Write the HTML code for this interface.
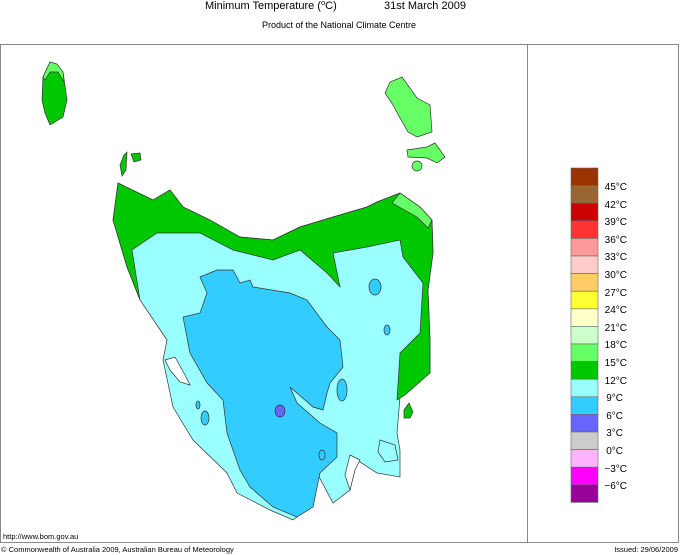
<!DOCTYPE html>
<html><head><meta charset="utf-8"><style>
body{margin:0;background:#fff;}
svg{display:block;font-family:"Liberation Sans",sans-serif;}
</style></head><body>
<svg width="680" height="555" viewBox="0 0 680 555" xmlns="http://www.w3.org/2000/svg">
<rect width="680" height="555" fill="#fff"/>
<text x="205" y="9" font-size="11" fill="#000">Minimum Temperature (<tspan font-size="7.5" dy="-4">o</tspan><tspan dy="4">C)</tspan></text>
<text x="384" y="9" font-size="11" fill="#000">31st March 2009</text>
<text x="339" y="28" font-size="9" text-anchor="middle" fill="#000">Product of the National Climate Centre</text>
<rect x="0.5" y="44.5" width="678" height="498" fill="none" stroke="#888"/>
<line x1="527.5" y1="44" x2="527.5" y2="543" stroke="#888"/>
<g stroke="#333" stroke-width="0.7">
<path d="M50,62 L63,72 L67,100 L63,117 L50,125 L45,113 L42,100 L43,77 Z" fill="#00c800"/>
<path d="M50,62 L57,64 L63,72 L64,82 L58,72 L50,72 L45,80 L43,77 Z" fill="#66ff66"/>
<path d="M124,155 L127,152 L126,170 L122,176 L120,165 Z" fill="#00c800"/>
<path d="M131,154 L140,153 L141,160 L134,162 Z" fill="#00c800"/>
<path d="M402,77 L417,98 L430,105 L432,132 L417,137 L408,132 L400,118 L393,105 L385,93 L390,82 Z" fill="#66ff66"/>
<path d="M407,150 L427,147 L435,143 L445,157 L437,163 L427,158 L408,157 Z" fill="#66ff66"/>
<circle cx="417" cy="166" r="5" fill="#66ff66"/>
<path d="M118,183 L153,200 L170,190 L183,207 L210,220 L240,237 L273,240 L300,227 L333,217 L367,207 L377,202 L400,193 L420,207 L432,220 L433,253 L428,290 L430,340 L430,373 L400,397 L397,433 L400,450 L400,477 L377,473 L357,460 L350,490 L333,503 L317,473 L310,507 L293,520 L270,510 L237,493 L227,473 L193,440 L173,407 L163,360 L167,340 L140,300 L127,267 L113,220 Z" fill="#99ffff"/>
<path d="M118,183 L153,200 L170,190 L183,207 L210,220 L240,237 L273,240 L300,227 L333,217 L367,207 L377,202 L400,193 L420,207 L432,220 L433,253 L428,290 L430,340 L430,373 L405,395 L397,400 L400,353 L420,333 L423,283 L403,257 L400,240 L367,247 L333,253 L340,287 L327,273 L300,250 L273,260 L233,250 L200,233 L157,233 L132,250 L140,300 L127,267 L113,220 Z" fill="#00c800"/>
<path d="M392,203 L400,193 L420,207 L432,220 L428,228 L417,217 Z" fill="#66ff66"/>
<path d="M200,277 L217,270 L233,270 L240,283 L250,280 L253,287 L290,293 L307,300 L327,327 L340,340 L343,367 L330,383 L327,393 L323,410 L313,407 L290,387 L297,403 L320,423 L337,433 L337,457 L320,473 L313,507 L297,517 L273,507 L250,487 L240,470 L227,433 L223,400 L207,383 L190,353 L183,317 L200,313 L207,293 Z" fill="#33ccff"/>
<ellipse cx="375" cy="287" rx="6" ry="8" fill="#33ccff"/>
<ellipse cx="387" cy="330" rx="3" ry="5" fill="#33ccff"/>
<ellipse cx="342" cy="390" rx="5" ry="11" fill="#33ccff"/>
<ellipse cx="205" cy="418" rx="4" ry="7" fill="#33ccff"/>
<ellipse cx="198" cy="405" rx="2" ry="4" fill="#33ccff"/>
<ellipse cx="322" cy="455" rx="3" ry="5" fill="#33ccff"/>
<ellipse cx="280" cy="411" rx="5" ry="6" fill="#6666ff"/>
<path d="M404,410 L409,403 L413,412 L410,418 L404,418 Z" fill="#00c800"/>
<path d="M165,360 L175,357 L185,375 L190,385 L180,382 L170,370 Z" fill="#fff"/>
<path d="M350,455 L360,460 L355,470 L350,490 L345,475 Z" fill="#fff"/>
<path d="M380,440 L395,445 L398,460 L385,462 L378,452 Z" fill="#99ffff"/>
</g>
<g stroke="#666" stroke-width="0.6">
<rect x="571" y="168" width="27" height="17.6" fill="#993300"/>
<rect x="571" y="185.6" width="27" height="17.6" fill="#996633"/>
<rect x="571" y="203.2" width="27" height="17.6" fill="#cc0000"/>
<rect x="571" y="220.8" width="27" height="17.6" fill="#ff3333"/>
<rect x="571" y="238.4" width="27" height="17.6" fill="#ff9999"/>
<rect x="571" y="256" width="27" height="17.6" fill="#ffcccc"/>
<rect x="571" y="273.6" width="27" height="17.6" fill="#ffcc66"/>
<rect x="571" y="291.2" width="27" height="17.6" fill="#ffff33"/>
<rect x="571" y="308.8" width="27" height="17.6" fill="#ffffcc"/>
<rect x="571" y="326.4" width="27" height="17.6" fill="#ccffcc"/>
<rect x="571" y="344" width="27" height="17.6" fill="#66ff66"/>
<rect x="571" y="361.6" width="27" height="17.6" fill="#00c800"/>
<rect x="571" y="379.2" width="27" height="17.6" fill="#99ffff"/>
<rect x="571" y="396.8" width="27" height="17.6" fill="#33ccff"/>
<rect x="571" y="414.4" width="27" height="17.6" fill="#6666ff"/>
<rect x="571" y="432" width="27" height="17.6" fill="#cccccc"/>
<rect x="571" y="449.6" width="27" height="17.6" fill="#ffb3ff"/>
<rect x="571" y="467.2" width="27" height="17.6" fill="#ff00ff"/>
<rect x="571" y="484.8" width="27" height="17.6" fill="#990099"/>
</g>
<g font-size="10" fill="#000" text-anchor="end">
<text x="627" y="190">45°C</text><text x="627" y="208">42°C</text><text x="627" y="225">39°C</text>
<text x="627" y="243">36°C</text><text x="627" y="260">33°C</text><text x="627" y="278">30°C</text>
<text x="627" y="296">27°C</text><text x="627" y="313">24°C</text><text x="627" y="331">21°C</text>
<text x="627" y="348">18°C</text><text x="627" y="366">15°C</text><text x="627" y="384">12°C</text>
<text x="623" y="401">9°C</text><text x="623" y="419">6°C</text><text x="623" y="436">3°C</text>
<text x="623" y="454">0°C</text><text x="627" y="472">−3°C</text><text x="627" y="489">−6°C</text>
</g>
<text x="3" y="539" font-size="7.5" fill="#000">http://www.bom.gov.au</text>
<text x="1" y="552" font-size="7.5" fill="#000">© Commonwealth of Australia 2009, Australian Bureau of Meteorology</text>
<text x="678" y="552" font-size="7.5" fill="#000" text-anchor="end">Issued: 29/06/2009</text>
</svg>
</body></html>
